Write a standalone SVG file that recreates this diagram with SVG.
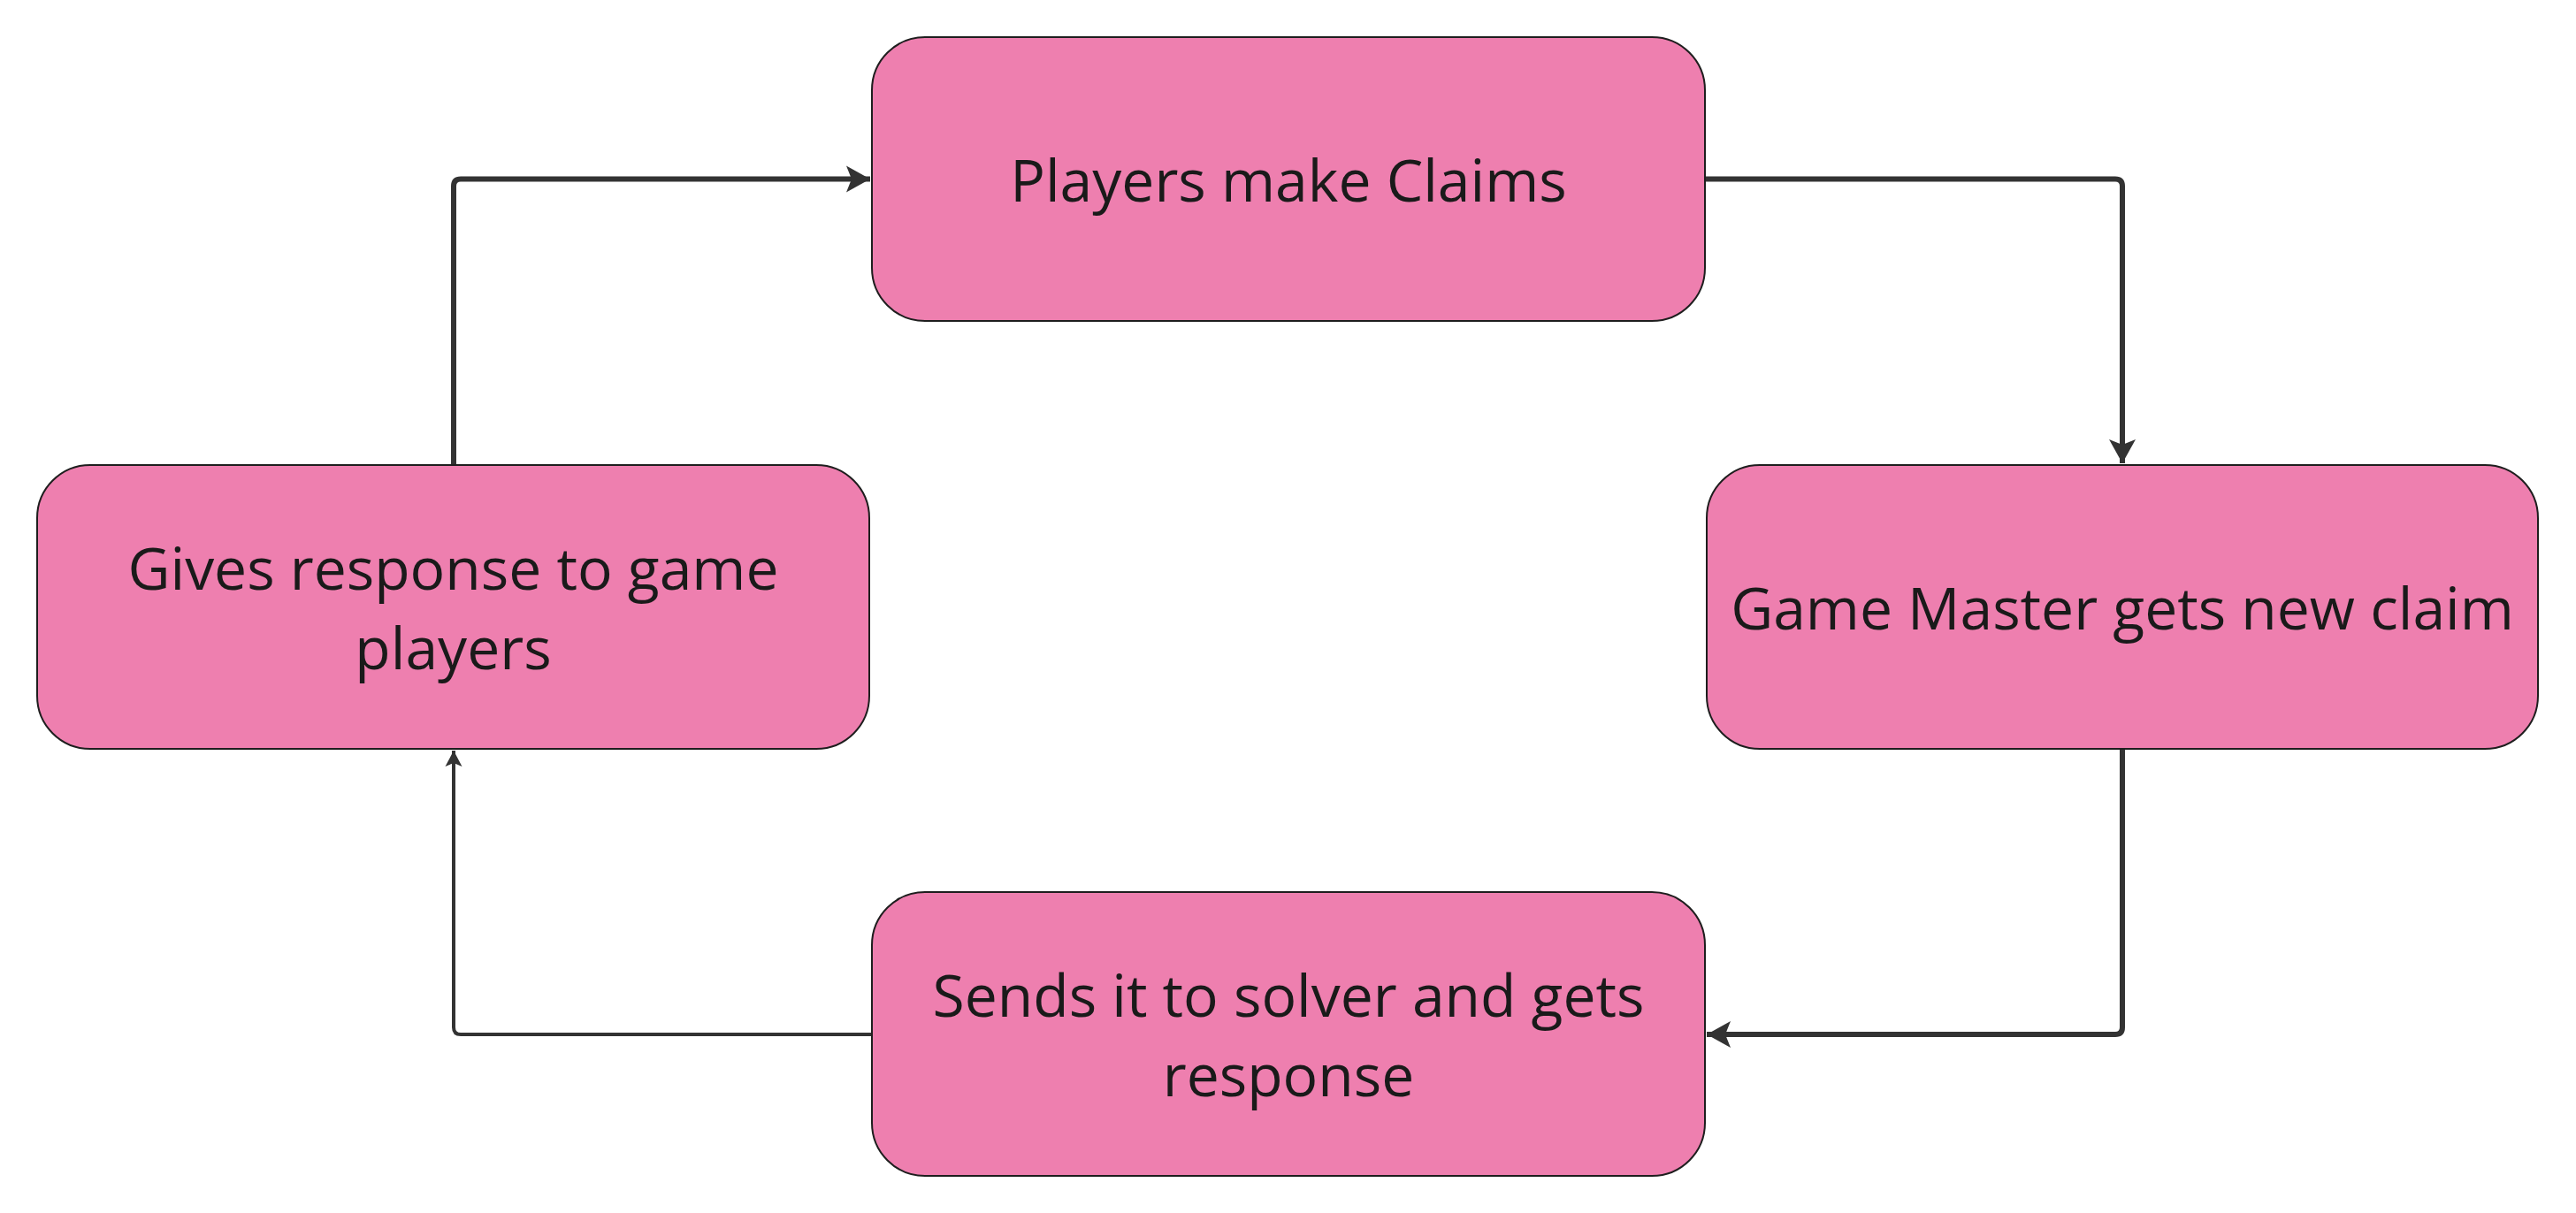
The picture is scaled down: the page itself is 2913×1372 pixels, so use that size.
<svg xmlns="http://www.w3.org/2000/svg" width="2913" height="1372" viewBox="0 0 2913 1372">
<style>
.node rect{fill:#EE7FAF;stroke:#1e1e1e;stroke-width:2}
.node text{font-family:"Open Sans","Noto Sans",sans-serif;font-size:66px;fill:#1a1a1a;text-anchor:middle}
.conn{fill:none;stroke:#333333;stroke-linejoin:round}
.thick{stroke-width:6}
.thin{stroke-width:4}
</style>
<defs>
<marker id="ah" markerUnits="userSpaceOnUse" markerWidth="40" markerHeight="40" refX="27" refY="16" orient="auto">
<path d="M0,1 L27,16 L0,31 L6,16 Z" fill="#333333"/>
</marker>
<marker id="ahs" markerUnits="userSpaceOnUse" markerWidth="30" markerHeight="30" refX="18" refY="10" orient="auto">
<path d="M0,0.5 L18,10 L0,19.5 L4,10 Z" fill="#333333"/>
</marker>
</defs>
<rect width="2913" height="1372" fill="#ffffff"/>
<g id="connectors">
<path class="conn thick" d="M1928,202.5 H2392 Q2400,202.5 2400,210.5 V524" marker-end="url(#ah)"/>
<path class="conn thick" d="M2400,847 V1162 Q2400,1170 2392,1170 H1930" marker-end="url(#ah)"/>
<path class="conn thin" d="M986,1170 H521 Q513,1170 513,1162 V849" marker-end="url(#ahs)"/>
<path class="conn thick" d="M513,526 V210.5 Q513,202.5 521,202.5 H984" marker-end="url(#ah)"/>
</g>
<g id="node-players-claims" class="node">
<rect x="986" y="42" width="942" height="321" rx="60" ry="60"/>
<text x="1457" y="228">Players make Claims</text>
</g>
<g id="node-game-master" class="node">
<rect x="1930" y="526" width="940" height="321" rx="60" ry="60"/>
<text x="2400" y="712">Game Master gets new claim</text>
</g>
<g id="node-solver" class="node">
<rect x="986" y="1009" width="942" height="321" rx="60" ry="60"/>
<text x="1457" y="1150">Sends it to solver and gets</text>
<text x="1457" y="1240">response</text>
</g>
<g id="node-response" class="node">
<rect x="42" y="526" width="941" height="321" rx="60" ry="60"/>
<text x="512.5" y="667">Gives response to game</text>
<text x="512.5" y="757">players</text>
</g>
</svg>
